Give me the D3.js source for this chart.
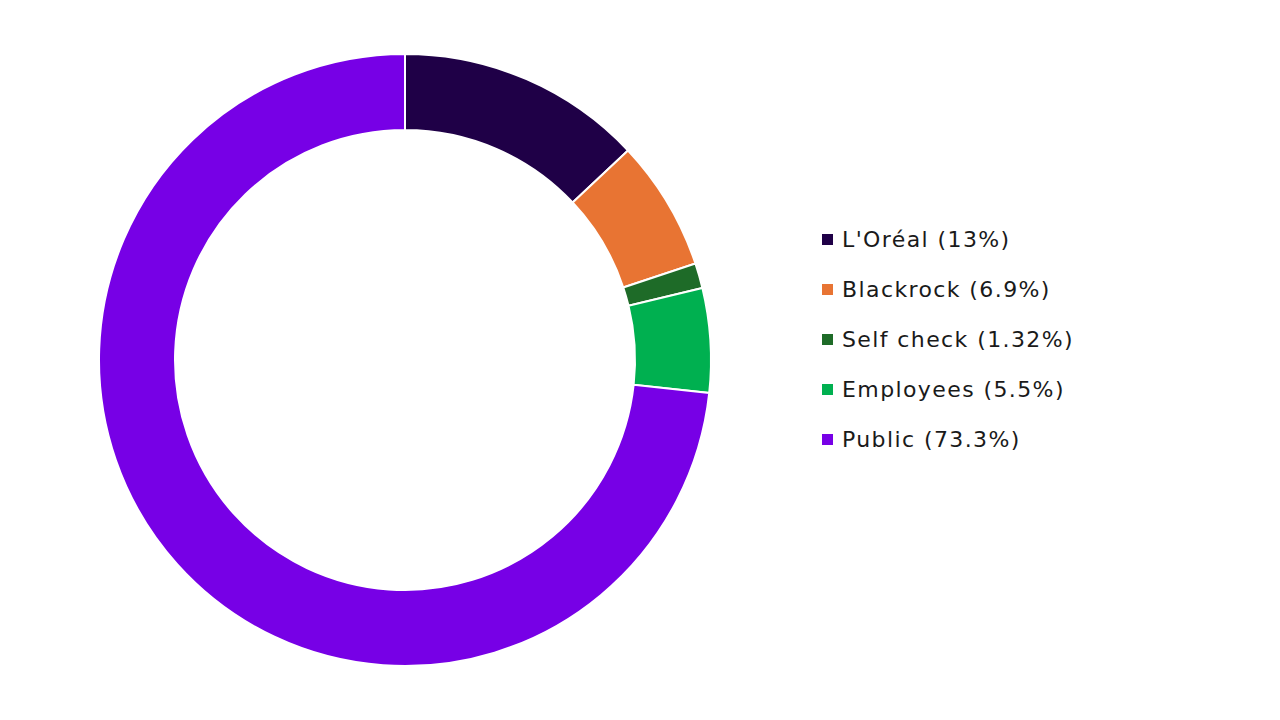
<!DOCTYPE html>
<html lang="en">
<head>
    <meta charset="UTF-8">
    <title>Shareholding Structure</title>
    <script src="https://d3js.org/d3.v7.min.js"></script>
    <style>
        body {
            margin: 0;
            background: #ffffff;
            font-family: Verdana, "DejaVu Sans", sans-serif;
        }
    </style>
</head>
<body>
    <svg id="chart" width="1280" height="720"></svg>

    <script>
        const labels = ["L'Oréal", "Blackrock", "Self check", "Employees", "Public"];
        const shares = [13, 6.9, 1.32, 5.5, 73.3];
        const colors = ["#1f0047", "#e87433", "#1e6b28", "#00b050", "#7700e6"];

        const cx = 405, cy = 360, outerR = 306, innerR = 230;

        const svg = d3.select("#chart");
        const color = d3.scaleOrdinal().domain(labels).range(colors);

        const data = labels.map((l, i) => ({ label: l, value: shares[i] }));

        const pie = d3.pie().sort(null).value(d => d.value);
        const arc = d3.arc().innerRadius(innerR).outerRadius(outerR);

        svg.append("g")
            .attr("transform", `translate(${cx},${cy})`)
            .selectAll("path")
            .data(pie(data))
            .join("path")
            .attr("d", arc)
            .attr("fill", d => color(d.data.label))
            .attr("stroke", "#ffffff")
            .attr("stroke-width", 2);

        // legend
        const legendY = d3.scalePoint().domain(labels).range([239, 439]);

        const items = svg.append("g")
            .selectAll("g")
            .data(data)
            .join("g")
            .attr("transform", d => `translate(822,${legendY(d.label)})`);

        items.append("rect")
            .attr("x", 0)
            .attr("y", -5)
            .attr("width", 11)
            .attr("height", 11)
            .attr("fill", d => color(d.label));

        items.append("text")
            .attr("x", 20)
            .attr("dy", "0.35em")
            .style("font-size", "22px")
            .style("letter-spacing", "1.4px")
            .style("fill", "#1a1a1a")
            .text(d => `${d.label} (${d.value}%)`);
    </script>
</body>
</html>
